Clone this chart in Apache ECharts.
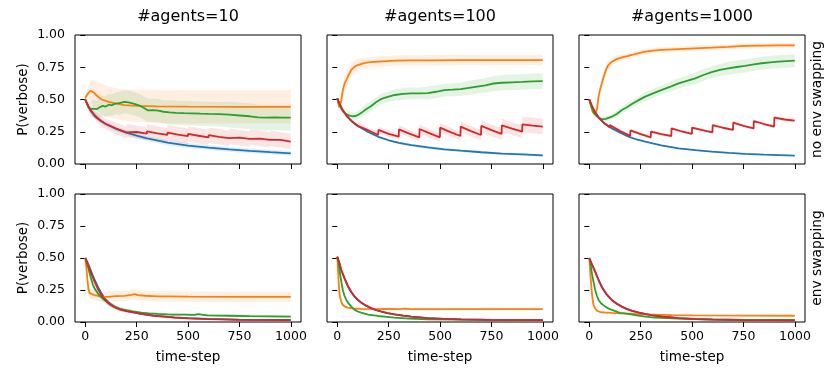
<!DOCTYPE html>
<html><head><meta charset="utf-8">
<script src="https://cdn.jsdelivr.net/npm/echarts@6/dist/echarts.min.js"></script>
<style>html,body{margin:0;padding:0;background:#fff}#c{width:840px;height:380px}</style>
</head><body><div id="c"></div>
<script>
// ---- data: [time-step, mean P(verbose), CI half-width] ----
const colTitles = ['#agents=10', '#agents=100', '#agents=1000'];
const rowTitles = ['no env swapping', 'env swapping'];
const xTicks = [0, 250, 500, 750, 1000];
const yTicks = [0, 0.25, 0.5, 0.75, 1.0];

// row 0 (no env swapping), #agents=10
const n10_blue = [[0,0.50,0.01],[10,0.46,0.015],[25,0.415,0.02],[50,0.365,0.02],[75,0.335,0.02],[100,0.31,0.02],[150,0.272,0.02],[200,0.243,0.02],[250,0.22,0.02],[300,0.198,0.02],[400,0.166,0.02],[500,0.143,0.02],[600,0.127,0.02],[700,0.114,0.02],[800,0.102,0.018],[900,0.092,0.018],[999,0.083,0.018]];
const n10_orange = [[0,0.51,0.01],[10,0.54,0.04],[25,0.568,0.08],[40,0.555,0.1],[60,0.525,0.11],[80,0.5,0.12],[110,0.483,0.12],[150,0.468,0.12],[190,0.457,0.12],[250,0.45,0.125],[350,0.446,0.13],[500,0.444,0.13],[750,0.443,0.13],[999,0.443,0.13]];
const n10_green = [[0,0.50,0.01],[8,0.47,0.03],[15,0.44,0.05],[25,0.425,0.06],[40,0.43,0.07],[55,0.425,0.07],[70,0.44,0.08],[85,0.45,0.08],[100,0.445,0.08],[115,0.46,0.085],[130,0.455,0.085],[145,0.468,0.085],[165,0.472,0.09],[190,0.482,0.09],[210,0.478,0.09],[230,0.47,0.09],[250,0.46,0.09],[270,0.448,0.09],[290,0.43,0.09],[305,0.415,0.09],[330,0.418,0.09],[355,0.413,0.09],[380,0.405,0.09],[410,0.4,0.095],[440,0.397,0.095],[480,0.394,0.095],[520,0.393,0.095],[560,0.39,0.095],[600,0.388,0.095],[650,0.386,0.095],[700,0.382,0.1],[750,0.376,0.1],[800,0.37,0.1],[840,0.362,0.1],[880,0.36,0.1],[920,0.362,0.1],[960,0.36,0.1],[999,0.359,0.1]];
const n10_red = [[0,0.50,0.01],[10,0.465,0.02],[25,0.42,0.03],[50,0.37,0.035],[75,0.335,0.04],[100,0.31,0.04],[150,0.275,0.045],[199,0.245,0.045],[200,0.26,0.05],[250,0.248,0.05],[299,0.235,0.05],[300,0.253,0.055],[350,0.238,0.055],[399,0.225,0.055],[400,0.243,0.06],[450,0.228,0.06],[499,0.216,0.06],[500,0.233,0.06],[550,0.219,0.06],[599,0.207,0.06],[600,0.223,0.06],[650,0.211,0.06],[699,0.2,0.06],[700,0.215,0.06],[750,0.204,0.06],[799,0.194,0.06],[800,0.208,0.06],[850,0.197,0.06],[899,0.187,0.06],[900,0.2,0.06],[950,0.187,0.06],[999,0.174,0.06]];

// row 0, #agents=100
const n100_blue = [[0,0.51,0.005],[10,0.47,0.008],[25,0.42,0.01],[50,0.365,0.01],[75,0.325,0.01],[100,0.295,0.01],[150,0.248,0.01],[200,0.211,0.01],[250,0.184,0.01],[300,0.163,0.01],[360,0.147,0.01],[440,0.129,0.01],[520,0.114,0.01],[600,0.103,0.01],[700,0.091,0.01],[800,0.081,0.01],[900,0.074,0.01],[999,0.067,0.01]];
const n100_orange = [[0,0.51,0.01],[5,0.47,0.03],[10,0.44,0.04],[18,0.48,0.05],[27,0.57,0.06],[35,0.62,0.06],[44,0.65,0.06],[55,0.69,0.06],[68,0.73,0.055],[85,0.755,0.05],[100,0.767,0.045],[125,0.78,0.045],[150,0.788,0.04],[200,0.794,0.04],[280,0.801,0.04],[360,0.803,0.04],[440,0.804,0.04],[600,0.805,0.04],[800,0.806,0.04],[999,0.806,0.04]];
const n100_green = [[0,0.51,0.01],[10,0.46,0.02],[20,0.43,0.025],[30,0.405,0.03],[45,0.385,0.03],[60,0.375,0.03],[75,0.37,0.03],[90,0.372,0.03],[105,0.385,0.035],[120,0.4,0.035],[140,0.425,0.04],[165,0.45,0.04],[190,0.48,0.04],[215,0.505,0.04],[245,0.52,0.04],[280,0.535,0.045],[320,0.543,0.045],[360,0.548,0.045],[400,0.548,0.045],[440,0.55,0.05],[480,0.56,0.05],[520,0.573,0.05],[560,0.576,0.05],[600,0.58,0.05],[640,0.59,0.055],[680,0.6,0.055],[720,0.61,0.055],[760,0.624,0.06],[800,0.63,0.06],[850,0.633,0.06],[900,0.636,0.06],[950,0.64,0.06],[999,0.643,0.06]];
const n100_red = [[0,0.51,0.005],[10,0.47,0.008],[25,0.42,0.01],[50,0.365,0.012],[75,0.325,0.015],[99,0.296,0.015],[100,0.31,0.02],[150,0.262,0.02],[199,0.225,0.025],[200,0.264,0.025],[250,0.234,0.025],[299,0.212,0.025],[300,0.269,0.03],[350,0.236,0.03],[399,0.207,0.03],[400,0.271,0.035],[450,0.237,0.035],[499,0.207,0.035],[500,0.282,0.035],[550,0.247,0.035],[599,0.217,0.035],[600,0.29,0.04],[650,0.255,0.04],[699,0.225,0.04],[700,0.295,0.045],[750,0.262,0.045],[799,0.233,0.045],[800,0.30,0.05],[850,0.274,0.05],[899,0.251,0.05],[900,0.307,0.06],[950,0.298,0.06],[999,0.29,0.06]];

// row 0, #agents=1000
const n1000_blue = [[0,0.50,0.005],[10,0.46,0.005],[25,0.41,0.005],[45,0.362,0.005],[70,0.32,0.005],[110,0.276,0.005],[150,0.242,0.005],[191,0.212,0.005],[230,0.19,0.005],[272,0.173,0.005],[350,0.145,0.005],[434,0.121,0.005],[515,0.107,0.005],[595,0.096,0.005],[680,0.086,0.005],[757,0.078,0.005],[850,0.072,0.005],[999,0.065,0.005]];
const n1000_orange = [[0,0.50,0.01],[8,0.45,0.02],[18,0.4,0.03],[28,0.385,0.03],[38,0.43,0.04],[45,0.52,0.04],[53,0.58,0.04],[61,0.625,0.04],[70,0.675,0.04],[78,0.716,0.035],[90,0.76,0.03],[110,0.793,0.03],[135,0.815,0.025],[159,0.826,0.025],[185,0.836,0.02],[207,0.845,0.02],[240,0.86,0.02],[272,0.871,0.02],[310,0.879,0.02],[353,0.884,0.02],[434,0.891,0.02],[515,0.897,0.02],[595,0.902,0.02],[676,0.908,0.02],[757,0.915,0.02],[838,0.918,0.02],[919,0.92,0.02],[999,0.92,0.02]];
const n1000_green = [[0,0.50,0.005],[10,0.45,0.01],[20,0.405,0.015],[30,0.38,0.015],[45,0.36,0.02],[61,0.347,0.02],[80,0.35,0.02],[110,0.367,0.02],[135,0.39,0.025],[159,0.419,0.025],[185,0.442,0.03],[207,0.465,0.03],[240,0.495,0.03],[272,0.522,0.035],[310,0.548,0.035],[353,0.574,0.035],[395,0.6,0.04],[434,0.625,0.04],[475,0.645,0.04],[515,0.664,0.045],[555,0.69,0.045],[595,0.712,0.045],[635,0.73,0.045],[676,0.742,0.05],[717,0.752,0.05],[757,0.76,0.05],[800,0.772,0.05],[838,0.781,0.05],[880,0.788,0.05],[919,0.793,0.05],[960,0.797,0.05],[999,0.801,0.05]];
const n1000_red = [[0,0.50,0.005],[10,0.46,0.006],[25,0.41,0.008],[45,0.362,0.008],[70,0.32,0.01],[99,0.285,0.01],[100,0.302,0.012],[150,0.255,0.012],[199,0.218,0.012],[200,0.26,0.012],[250,0.232,0.012],[299,0.207,0.012],[300,0.251,0.012],[350,0.232,0.012],[399,0.217,0.012],[400,0.276,0.012],[450,0.252,0.012],[499,0.233,0.012],[500,0.282,0.012],[550,0.262,0.012],[599,0.245,0.012],[600,0.302,0.012],[650,0.281,0.012],[699,0.264,0.012],[700,0.32,0.012],[750,0.296,0.012],[799,0.276,0.012],[800,0.333,0.012],[850,0.31,0.012],[899,0.29,0.012],[900,0.359,0.014],[950,0.345,0.014],[999,0.336,0.014]];

// row 1 (env swapping), #agents=10
const s10_blue = [[0,0.50,0.01],[10,0.47,0.015],[20,0.43,0.02],[30,0.39,0.02],[45,0.33,0.02],[61,0.276,0.02],[78,0.225,0.02],[94,0.185,0.02],[115,0.15,0.015],[142,0.12,0.015],[170,0.1,0.012],[200,0.087,0.012],[240,0.075,0.01],[272,0.064,0.01],[330,0.05,0.01],[434,0.036,0.008],[500,0.03,0.006],[600,0.024,0.005],[750,0.019,0.005],[999,0.016,0.005]];
const s10_orange = [[0,0.50,0.01],[5,0.43,0.03],[10,0.34,0.04],[15,0.26,0.04],[21,0.225,0.04],[30,0.218,0.04],[45,0.21,0.04],[78,0.198,0.04],[110,0.197,0.04],[150,0.202,0.04],[191,0.204,0.04],[225,0.212,0.04],[240,0.218,0.04],[255,0.21,0.04],[290,0.205,0.04],[353,0.2,0.04],[400,0.2,0.04],[500,0.198,0.04],[750,0.197,0.04],[999,0.197,0.04]];
const s10_green = [[0,0.50,0.01],[8,0.46,0.02],[15,0.42,0.025],[21,0.38,0.03],[30,0.33,0.03],[37,0.29,0.03],[48,0.255,0.03],[61,0.224,0.03],[77,0.195,0.025],[94,0.172,0.025],[118,0.14,0.02],[142,0.12,0.02],[165,0.105,0.015],[191,0.094,0.015],[230,0.082,0.012],[272,0.073,0.01],[310,0.067,0.01],[353,0.063,0.01],[400,0.06,0.01],[434,0.058,0.01],[480,0.057,0.01],[530,0.056,0.01],[550,0.062,0.01],[565,0.058,0.01],[595,0.052,0.01],[700,0.049,0.01],[800,0.046,0.01],[900,0.044,0.01],[999,0.042,0.01]];
const s10_red = [[0,0.50,0.01],[10,0.46,0.015],[20,0.415,0.02],[30,0.375,0.02],[45,0.315,0.02],[61,0.26,0.02],[78,0.212,0.02],[94,0.175,0.02],[115,0.143,0.015],[142,0.115,0.015],[170,0.097,0.012],[200,0.085,0.012],[240,0.073,0.01],[272,0.064,0.01],[330,0.05,0.01],[434,0.034,0.008],[500,0.028,0.006],[600,0.022,0.005],[750,0.017,0.005],[999,0.014,0.005]];

// row 1, #agents=100
const s100_blue = [[0,0.51,0.005],[10,0.46,0.008],[19,0.406,0.01],[35,0.34,0.01],[52,0.276,0.01],[68,0.232,0.01],[84,0.198,0.01],[100,0.172,0.008],[116,0.151,0.008],[140,0.127,0.008],[165,0.107,0.006],[190,0.092,0.006],[214,0.081,0.006],[245,0.069,0.005],[278,0.06,0.005],[320,0.05,0.005],[359,0.042,0.005],[440,0.031,0.004],[520,0.025,0.004],[602,0.021,0.004],[750,0.017,0.004],[999,0.015,0.004]];
const s100_orange = [[0,0.51,0.005],[3,0.43,0.01],[6,0.33,0.015],[10,0.24,0.015],[13,0.198,0.012],[20,0.155,0.01],[27,0.133,0.01],[40,0.118,0.008],[52,0.112,0.008],[75,0.106,0.008],[116,0.102,0.008],[200,0.101,0.008],[250,0.103,0.008],[300,0.1,0.008],[330,0.104,0.008],[360,0.1,0.008],[500,0.1,0.006],[750,0.1,0.006],[999,0.1,0.006]];
const s100_green = [[0,0.51,0.005],[5,0.47,0.01],[11,0.406,0.015],[18,0.33,0.015],[27,0.25,0.015],[35,0.205,0.012],[44,0.172,0.01],[55,0.145,0.01],[68,0.12,0.01],[85,0.095,0.008],[100,0.082,0.008],[116,0.073,0.006],[150,0.058,0.006],[197,0.047,0.005],[240,0.04,0.005],[278,0.034,0.005],[350,0.026,0.004],[440,0.021,0.004],[600,0.018,0.004],[800,0.016,0.004],[999,0.015,0.004]];
const s100_red = [[0,0.51,0.005],[10,0.465,0.008],[19,0.41,0.01],[35,0.345,0.01],[52,0.282,0.01],[68,0.236,0.01],[84,0.2,0.01],[100,0.174,0.008],[116,0.153,0.008],[140,0.128,0.008],[165,0.108,0.006],[190,0.093,0.006],[214,0.082,0.006],[245,0.07,0.005],[278,0.06,0.005],[320,0.05,0.005],[359,0.042,0.005],[440,0.031,0.004],[520,0.025,0.004],[602,0.021,0.004],[750,0.017,0.004],[999,0.014,0.004]];

// row 1, #agents=1000
const s1000_blue = [[0,0.50,0.004],[10,0.46,0.004],[29,0.393,0.004],[45,0.33,0.004],[61,0.276,0.004],[85,0.215,0.004],[110,0.172,0.004],[135,0.142,0.004],[159,0.12,0.004],[183,0.103,0.004],[207,0.089,0.004],[240,0.075,0.004],[272,0.063,0.004],[310,0.052,0.004],[353,0.044,0.004],[434,0.031,0.003],[520,0.024,0.003],[600,0.02,0.003],[750,0.016,0.003],[999,0.013,0.003]];
const s1000_orange = [[0,0.50,0.004],[3,0.44,0.006],[5,0.38,0.008],[9,0.3,0.008],[13,0.224,0.008],[17,0.17,0.006],[21,0.133,0.006],[29,0.105,0.005],[37,0.089,0.005],[50,0.08,0.004],[61,0.076,0.004],[80,0.074,0.004],[110,0.071,0.004],[150,0.068,0.004],[200,0.065,0.004],[250,0.06,0.004],[300,0.058,0.004],[400,0.054,0.004],[500,0.052,0.004],[750,0.05,0.004],[999,0.049,0.004]];
const s1000_green = [[0,0.50,0.004],[5,0.46,0.004],[13,0.38,0.005],[21,0.31,0.005],[29,0.25,0.005],[37,0.205,0.005],[45,0.172,0.005],[60,0.142,0.004],[78,0.12,0.004],[94,0.105,0.004],[110,0.094,0.004],[150,0.072,0.004],[191,0.063,0.004],[230,0.052,0.004],[272,0.042,0.004],[320,0.034,0.003],[434,0.026,0.003],[550,0.021,0.003],[750,0.017,0.003],[999,0.016,0.003]];
const s1000_red = [[0,0.50,0.004],[10,0.462,0.004],[29,0.39,0.004],[45,0.328,0.004],[61,0.272,0.004],[85,0.213,0.004],[110,0.17,0.004],[135,0.14,0.004],[159,0.118,0.004],[183,0.101,0.004],[207,0.087,0.004],[240,0.073,0.004],[272,0.062,0.004],[310,0.051,0.004],[353,0.043,0.004],[434,0.03,0.003],[520,0.023,0.003],[600,0.019,0.003],[750,0.015,0.003],[999,0.012,0.003]];

const panels = [
  [n10_blue, n10_orange, n10_green, n10_red],
  [n100_blue, n100_orange, n100_green, n100_red],
  [n1000_blue, n1000_orange, n1000_green, n1000_red],
  [s10_blue, s10_orange, s10_green, s10_red],
  [s100_blue, s100_orange, s100_green, s100_red],
  [s1000_blue, s1000_orange, s1000_green, s1000_red]
];
const colors = ['#1f77b4', '#ff7f0e', '#2ca02c', '#d62728'];

// ---- layout ----
const FONT = 'DejaVu Sans';
const lefts = [75, 327, 579];
const W = 226;
const tops = [35, 194];
const heights = [129, 128];

const grids = [], xAxes = [], yAxes = [], series = [];
for (let i = 0; i < 6; i++) {
  const r = Math.floor(i / 3), c = i % 3;
  grids.push({left: lefts[c], top: tops[r], width: W, height: heights[r], show: true,
    borderColor: '#000', borderWidth: 1, backgroundColor: 'transparent', containLabel: false});
  xAxes.push({gridIndex: i, type: 'value', min: -49.95, max: 1048.95,
    axisLine: {show: false}, splitLine: {show: false},
    axisTick: {show: true, customValues: xTicks, length: 5, lineStyle: {color: '#000', width: 1}},
    axisLabel: {show: r === 1, customValues: xTicks, color: '#000', fontSize: 12.5, fontFamily: FONT, margin: 8,
      formatter: v => String(Math.round(v))},
    name: r === 1 ? 'time-step' : '', nameLocation: 'middle', nameGap: 28,
    nameTextStyle: {color: '#000', fontSize: 13.5, fontFamily: FONT}});
  yAxes.push({gridIndex: i, type: 'value', min: 0, max: 1, interval: 0.25,
    axisLine: {show: false}, splitLine: {show: false},
    axisTick: {show: true, length: 5, lineStyle: {color: '#000', width: 1}},
    axisLabel: {show: c === 0, color: '#000', fontSize: 12.5, fontFamily: FONT, margin: 10,
      formatter: v => v.toFixed(2)},
    name: c === 0 ? 'P(verbose)' : '', nameLocation: 'middle', nameGap: 45, nameRotate: 90,
    nameTextStyle: {color: '#000', fontSize: 13.5, fontFamily: FONT}});
  panels[i].forEach((pts, k) => {
    series.push({
      type: 'custom', xAxisIndex: i, yAxisIndex: i, silent: true, clip: true, z: 2,
      data: [[0, 0]], encode: {x: 0, y: 1},
      renderItem: function (params, api) {
        const up = pts.map(p => api.coord([p[0], p[1] + p[2]]));
        const lo = pts.map(p => api.coord([p[0], Math.max(0, p[1] - p[2])])).reverse();
        return {type: 'polygon', shape: {points: up.concat(lo)},
          style: {fill: colors[k], opacity: 0.12}};
      }
    });
    series.push({
      type: 'line', xAxisIndex: i, yAxisIndex: i, z: 3,
      data: pts.map(p => [p[0], p[1]]), showSymbol: false, symbol: 'none',
      lineStyle: {color: colors[k], width: 1.8}, itemStyle: {color: colors[k]},
      silent: true
    });
  });
}

const graphics = [];
colTitles.forEach((t, c) => {
  graphics.push({type: 'text', x: lefts[c] + W / 2, y: 17,
    style: {text: t, fill: '#000', font: '16px "DejaVu Sans"', textAlign: 'center', textVerticalAlign: 'middle'}});
});
rowTitles.forEach((t, r) => {
  graphics.push({type: 'text', x: 817, y: tops[r] + heights[r] / 2, rotation: Math.PI / 2,
    style: {text: t, fill: '#000', font: '13.8px "DejaVu Sans"', textAlign: 'center', textVerticalAlign: 'middle'}});
});

const chart = echarts.init(document.getElementById('c'), null, {renderer: 'canvas'});
chart.setOption({
  animation: false,
  grid: grids, xAxis: xAxes, yAxis: yAxes, series: series, graphic: graphics
});
</script></body></html>
